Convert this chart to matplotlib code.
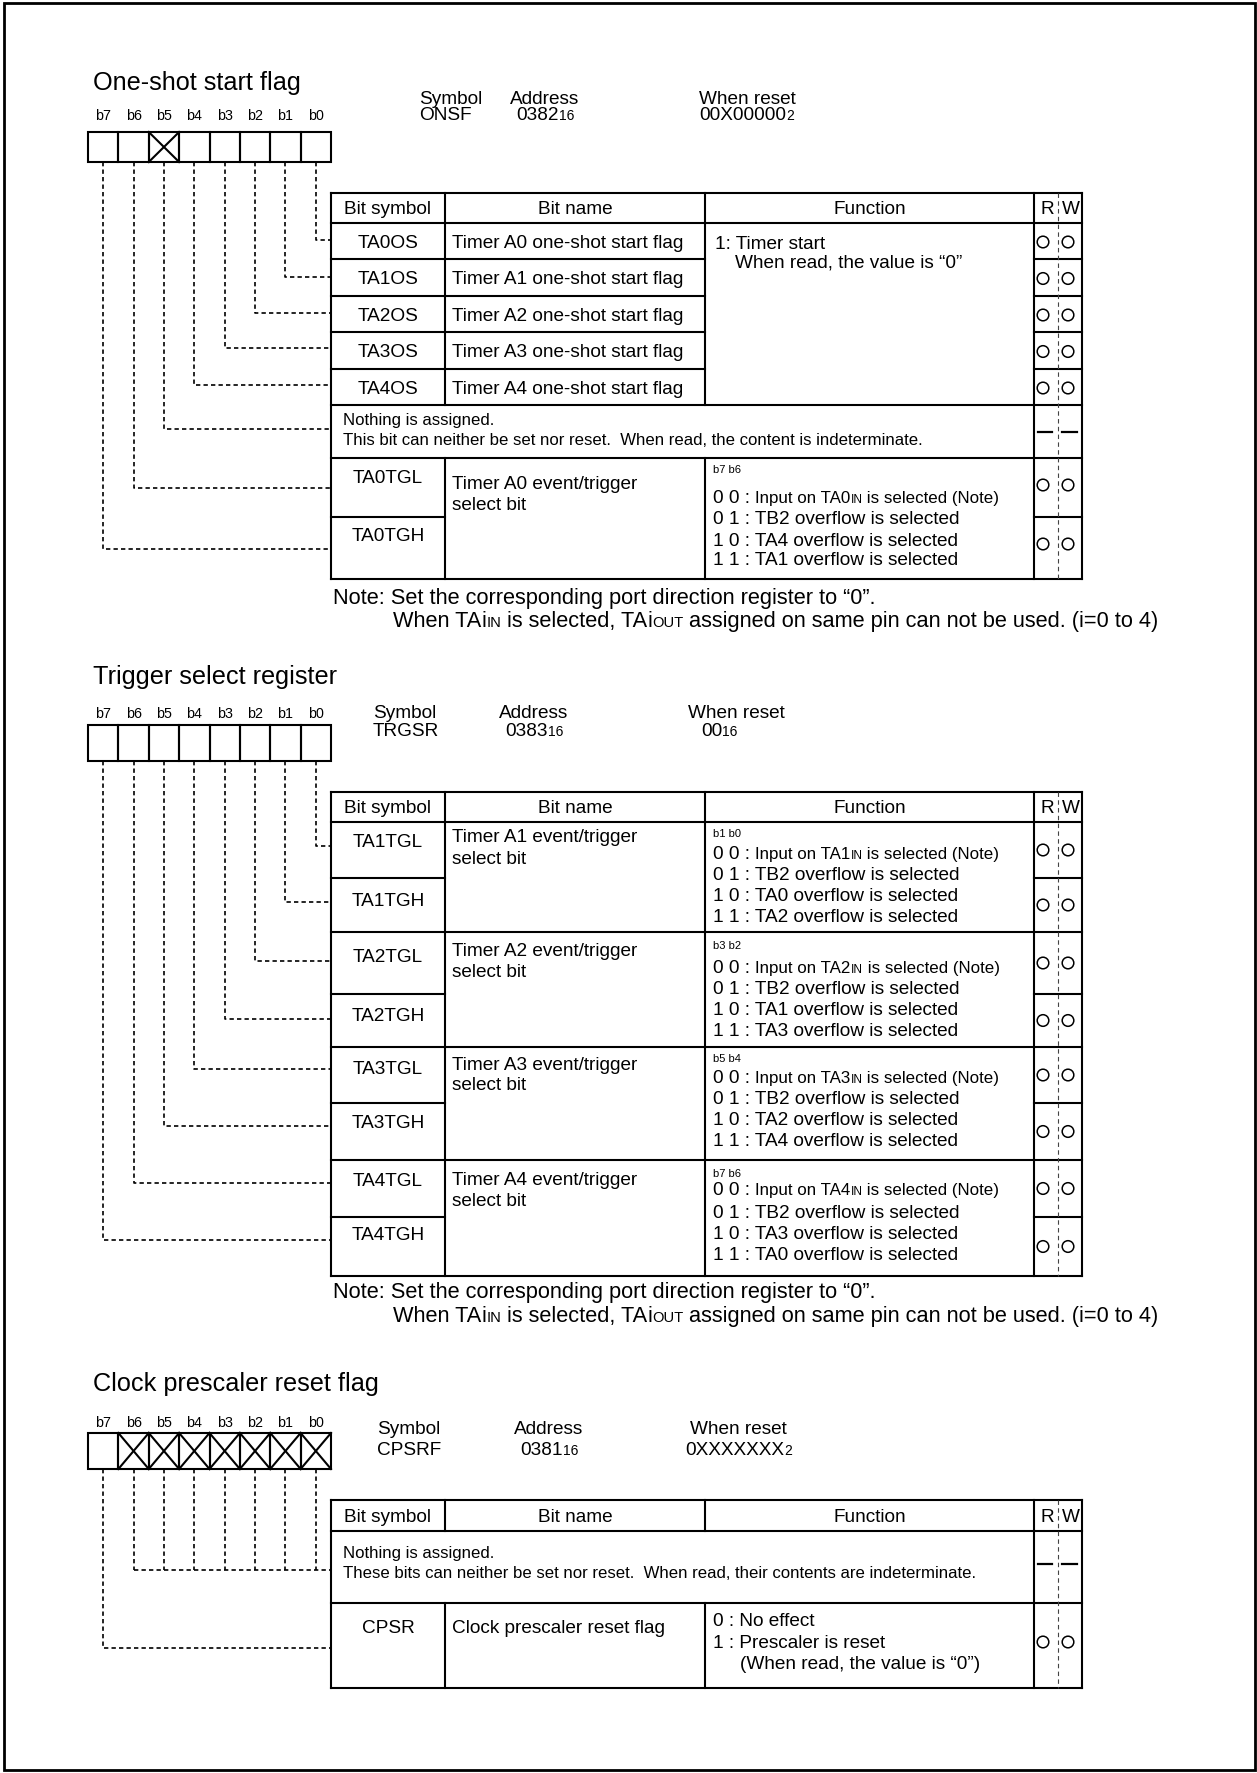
import matplotlib
matplotlib.use('Agg')
import matplotlib.pyplot as plt
from matplotlib.patches import Rectangle, Circle

# ---------------- content ----------------
BIT_LABELS = ['b7', 'b6', 'b5', 'b4', 'b3', 'b2', 'b1', 'b0']
HEADERS = ['Bit symbol', 'Bit name', 'Function']
RW = ['R', 'W']

# One-shot start flag
ONSF_TITLE = 'One-shot start flag'
ONSF_SYMBOL = 'ONSF'
ONSF_ADDR = ['0382', '16']
ONSF_RESET = ['00X00000', '2']
ONSF_CROSSED = ['b5']
ONSF_OS_SYMBOLS = ['TA0OS', 'TA1OS', 'TA2OS', 'TA3OS', 'TA4OS']
ONSF_OS_NAMES = ['Timer A0 one-shot start flag', 'Timer A1 one-shot start flag',
                 'Timer A2 one-shot start flag', 'Timer A3 one-shot start flag',
                 'Timer A4 one-shot start flag']
ONSF_OS_FUNC = ['1: Timer start', 'When read, the value is \u201c0\u201d']
ONSF_NOTHING = ['Nothing is assigned.',
                'This bit can neither be set nor reset.  When read, the content is indeterminate.']
ONSF_TG_SYMBOLS = ['TA0TGL', 'TA0TGH']
ONSF_TG_NAME = ['Timer A0 event/trigger', 'select bit']
ONSF_TG_BITS = 'b7 b6'
ONSF_TG_SRC = ['TA0', 'TB2', 'TA4', 'TA1']

# Trigger select register
TRG_TITLE = 'Trigger select register'
TRG_SYMBOL = 'TRGSR'
TRG_ADDR = ['0383', '16']
TRG_RESET = ['00', '16']
TRG_SYMBOLS = [['TA1TGL', 'TA1TGH'], ['TA2TGL', 'TA2TGH'],
               ['TA3TGL', 'TA3TGH'], ['TA4TGL', 'TA4TGH']]
TRG_NAMES = ['Timer A1 event/trigger', 'Timer A2 event/trigger',
             'Timer A3 event/trigger', 'Timer A4 event/trigger']
TRG_BITS = ['b1 b0', 'b3 b2', 'b5 b4', 'b7 b6']
TRG_SRC = [['TA1', 'TB2', 'TA0', 'TA2'], ['TA2', 'TB2', 'TA1', 'TA3'],
           ['TA3', 'TB2', 'TA2', 'TA4'], ['TA4', 'TB2', 'TA3', 'TA0']]
CODES = ['0 0 : ', '0 1 : ', '1 0 : ', '1 1 : ']

# Clock prescaler reset flag
CPS_TITLE = 'Clock prescaler reset flag'
CPS_SYMBOL = 'CPSRF'
CPS_ADDR = ['0381', '16']
CPS_RESET = ['0XXXXXXX', '2']
CPS_CROSSED = ['b6', 'b5', 'b4', 'b3', 'b2', 'b1', 'b0']
CPS_NOTHING = ['Nothing is assigned.',
               'These bits can neither be set nor reset.  When read, their contents are indeterminate.']
CPS_SYM = 'CPSR'
CPS_NAME = 'Clock prescaler reset flag'
CPS_FUNC = ['0 : No effect', '1 : Prescaler is reset', '(When read, the value is \u201c0\u201d)']

NOTE1 = 'Note: Set the corresponding port direction register to \u201c0\u201d.'

# ---------------- drawing ----------------
W, H = 1257, 1774
DPI = 100
FONT = 'Liberation Sans'
LW = 1.5
DASH_LW = 1.2

fig = plt.figure(figsize=(W / DPI, H / DPI), dpi=DPI)
ax = fig.add_axes([0, 0, 1, 1])
ax.set_xlim(0, W)
ax.set_ylim(H, 0)
ax.axis('off')
renderer = fig.canvas.get_renderer()

BASE = 13.7
NOTE = 15.7


def em(size):
    return size * DPI / 72.0


def txt(x, y, s, size=BASE, ha='left', style='normal'):
    return ax.text(x, y + 0.35 * em(size), s, fontsize=size, ha=ha, va='baseline',
                   family=FONT, fontstyle=style, color='black')


def width(s, size, style='normal'):
    t1 = ax.text(0, 0, '|' + s + '|', fontsize=size, family=FONT, fontstyle=style)
    t2 = ax.text(0, 0, '||', fontsize=size, family=FONT, fontstyle=style)
    w = t1.get_window_extent(renderer).width - t2.get_window_extent(renderer).width
    t1.remove()
    t2.remove()
    return w


def runs(x, y, parts, ha='left'):
    base = y + 0.35 * em(parts[0][1])
    arts = []
    cx = x
    for s, size, style in parts:
        t = ax.text(cx, base, s, fontsize=size, va='baseline', ha='left',
                    family=FONT, fontstyle=style, color='black')
        arts.append(t)
        cx += width(s, size, style)
    if ha == 'center':
        total = cx - x
        for t in arts:
            px, py = t.get_position()
            t.set_position((px - total / 2, py))


def hline(x0, x1, y, lw=LW):
    ax.plot([x0, x1], [y, y], color='black', lw=lw, solid_capstyle='projecting')


def vline(x, y0, y1, lw=LW):
    ax.plot([x, x], [y0, y1], color='black', lw=lw, solid_capstyle='projecting')


def dline(xs, ys):
    ax.plot(xs, ys, color='black', lw=DASH_LW, linestyle=(0, (2.6, 1.9)))


# columns
XL, XC1, XC2, XR, XD, XE = 331, 445, 705, 1034, 1058, 1082
BX0, BX1 = 88, 331
CW = (BX1 - BX0) / 8.0


def bit_center(label):
    i = BIT_LABELS.index(label)
    return BX0 + CW * (i + 0.5)


def register_head(title, ty, ly, by0, by1, crossed, sym, sx, addr, ax_c, reset, rx, hy, vy):
    txt(93, ty, title, size=18.2)
    for i, lab in enumerate(BIT_LABELS):
        cx = BX0 + CW * (i + 0.5)
        txt(cx, ly, lab, size=10.3, ha='center')
        x0 = BX0 + CW * i
        ax.add_patch(Rectangle((x0, by0), CW, by1 - by0, fill=False, lw=LW, ec='black'))
        if lab in crossed:
            ax.plot([x0, x0 + CW], [by0, by1], color='black', lw=LW)
            ax.plot([x0, x0 + CW], [by1, by0], color='black', lw=LW)
    txt(sx, hy, 'Symbol')
    txt(sx, vy, sym)
    txt(ax_c, hy, 'Address', ha='center')
    runs(ax_c, vy, [(addr[0], BASE, 'normal'), (addr[1], 10, 'normal')], ha='center')
    txt(rx[0], hy, 'When reset')
    runs(rx[1], vy, [(reset[0], BASE, 'normal'), (reset[1], 10, 'normal')])


def table_header(y0, y1):
    hline(XL, XE, y0)
    hline(XL, XE, y1)
    yc = (y0 + y1) / 2 - 1.5
    txt((XL + XC1) / 2, yc, HEADERS[0], ha='center')
    txt((XC1 + XC2) / 2, yc, HEADERS[1], ha='center')
    txt((XC2 + XR) / 2, yc, HEADERS[2], ha='center')
    txt(XD - 11, yc, RW[0], ha='center')
    txt(XD + 13, yc, RW[1], ha='center')


def rw_marks(yc, kind):
    if kind == 'o':
        for cx in (XD - 15, XD + 10):
            ax.add_patch(Circle((cx, yc), 5.8, fill=False, lw=1.1, ec='black'))
    else:
        hline(XD - 20, XD - 6, yc, lw=1.6)
        hline(XD + 4, XD + 19, yc, lw=1.6)


def func_lines(x, ys, bits, srcs):
    txt(x, ys[0], bits, size=8)
    for k in range(4):
        if k == 0:
            runs(x, ys[1], [(CODES[0], BASE, 'normal'), ('Input on ' + srcs[0], 12.2, 'normal'),
                            ('IN', 8.6, 'normal'), (' is selected (Note)', 12.2, 'normal')])
        else:
            txt(x, ys[k + 1], CODES[k] + srcs[k] + ' overflow is selected')


def notes(y1, y2):
    txt(333, y1, NOTE1, size=NOTE)
    runs(393, y2, [('When TA', NOTE, 'normal'), ('i', NOTE, 'normal'), ('IN', 10.6, 'normal'),
                   (' is selected, TA', NOTE, 'normal'), ('i', NOTE, 'normal'), ('OUT', 10.6, 'normal'),
                   (' assigned on same pin can not be used. (i=0 to 4)', NOTE, 'normal')])


# outer frame
ax.add_patch(Rectangle((4, 3.5), W - 6, H - 6, fill=False, lw=2.0, ec='black'))

# ======== Section 1 : One-shot start flag ========
register_head(ONSF_TITLE, 81, 115, 133, 163, ONSF_CROSSED, ONSF_SYMBOL, 419,
              ONSF_ADDR, 545, ONSF_RESET, (699, 699), 97, 113)
T1_TOP, T1_HB = 194, 224
os_rows = [224, 260, 297, 333, 370, 406]
T1_NB = 459
T1_SPLIT = 518
T1_BOT = 580
table_header(T1_TOP, T1_HB)
vline(XL, T1_TOP, T1_BOT)
vline(XE, T1_TOP, T1_BOT)
vline(XR, T1_TOP, T1_BOT)
vline(XC1, T1_TOP, os_rows[-1])
vline(XC2, T1_TOP, os_rows[-1])
vline(XC1, T1_NB, T1_BOT)
vline(XC2, T1_NB, T1_BOT)
for y in os_rows[1:-1]:
    hline(XL, XC2, y)
    hline(XR, XE, y)
hline(XL, XE, os_rows[-1])
hline(XL, XE, T1_NB)
hline(XL, XC1, T1_SPLIT)
hline(XR, XE, T1_SPLIT)
hline(XL, XE, T1_BOT)
ax.plot([XD, XD], [T1_TOP, T1_BOT], color='#444444', lw=0.8, linestyle=(0, (4, 3)))

for i in range(5):
    yc = (os_rows[i] + os_rows[i + 1]) / 2
    txt((XL + XC1) / 2, yc - 1, ONSF_OS_SYMBOLS[i], ha='center')
    txt(452, yc - 1, ONSF_OS_NAMES[i])
    rw_marks(yc + 1, 'o')
txt(715, 242, ONSF_OS_FUNC[0])
txt(735, 261, ONSF_OS_FUNC[1])
txt(343, 419, ONSF_NOTHING[0], size=12.1)
txt(343, 439, ONSF_NOTHING[1], size=12.1)
rw_marks(433, '-')
txt((XL + XC1) / 2, 476, ONSF_TG_SYMBOLS[0], ha='center')
txt((XL + XC1) / 2, 534, ONSF_TG_SYMBOLS[1], ha='center')
txt(452, 482, ONSF_TG_NAME[0])
txt(452, 503, ONSF_TG_NAME[1])
func_lines(713, [469, 496, 517, 539, 558], ONSF_TG_BITS, ONSF_TG_SRC)
rw_marks(486, 'o')
rw_marks(545, 'o')
notes(596, 619)

conn1 = {'b0': 241, 'b1': 278, 'b2': 314, 'b3': 349, 'b4': 386,
         'b5': 430, 'b6': 489, 'b7': 550}
for lab, yc in conn1.items():
    cx = bit_center(lab)
    dline([cx, cx, XL], [163, yc, yc])

# ======== Section 2 : Trigger select register ========
register_head(TRG_TITLE, 675, 713, 726, 762, [], TRG_SYMBOL, 373,
              TRG_ADDR, 534, TRG_RESET, (688, 701), 711, 729)
T2_TOP, T2_HB = 793, 823
groups = [823, 933, 1048, 1161, 1277]
splits = [879, 995, 1104, 1218]
table_header(T2_TOP, T2_HB)
for x in (XL, XC1, XC2, XR, XE):
    vline(x, T2_TOP, groups[-1])
for y in groups[1:]:
    hline(XL, XE, y)
for y in splits:
    hline(XL, XC1, y)
    hline(XR, XE, y)
ax.plot([XD, XD], [T2_TOP, groups[-1]], color='#444444', lw=0.8, linestyle=(0, (4, 3)))

sym_y = [[840, 899], [955, 1014], [1067, 1121], [1179, 1233]]
name_y = [[835, 857], [949, 970], [1063, 1083], [1178, 1199]]
func_y = [[833, 852, 873, 894, 915], [945, 966, 987, 1008, 1029],
          [1058, 1076, 1097, 1118, 1139], [1173, 1188, 1211, 1232, 1253]]
for g in range(4):
    txt((XL + XC1) / 2, sym_y[g][0], TRG_SYMBOLS[g][0], ha='center')
    txt((XL + XC1) / 2, sym_y[g][1], TRG_SYMBOLS[g][1], ha='center')
    txt(452, name_y[g][0], TRG_NAMES[g])
    txt(452, name_y[g][1], 'select bit')
    func_lines(713, func_y[g], TRG_BITS[g], TRG_SRC[g])
    rw_marks((groups[g] + splits[g]) / 2, 'o')
    rw_marks((splits[g] + groups[g + 1]) / 2, 'o')
notes(1290, 1314)

conn2 = {'b0': 847, 'b1': 903, 'b2': 962, 'b3': 1020, 'b4': 1070,
         'b5': 1127, 'b6': 1184, 'b7': 1241}
for lab, yc in conn2.items():
    cx = bit_center(lab)
    dline([cx, cx, XL], [762, yc, yc])

# ======== Section 3 : Clock prescaler reset flag ========
register_head(CPS_TITLE, 1382, 1422, 1434, 1470, CPS_CROSSED, CPS_SYMBOL, 377,
              CPS_ADDR, 549, CPS_RESET, (690, 685), 1427, 1448)
T3_TOP, T3_HB, T3_NB, T3_BOT = 1501, 1532, 1604, 1689
table_header(T3_TOP, T3_HB)
vline(XL, T3_TOP, T3_BOT)
vline(XE, T3_TOP, T3_BOT)
vline(XR, T3_TOP, T3_BOT)
vline(XC1, T3_TOP, T3_HB)
vline(XC2, T3_TOP, T3_HB)
vline(XC1, T3_NB, T3_BOT)
vline(XC2, T3_NB, T3_BOT)
hline(XL, XE, T3_NB)
hline(XL, XE, T3_BOT)
ax.plot([XD, XD], [T3_TOP, T3_BOT], color='#444444', lw=0.8, linestyle=(0, (4, 3)))
txt(343, 1552, CPS_NOTHING[0], size=12.1)
txt(343, 1572, CPS_NOTHING[1], size=12.1)
rw_marks(1565, '-')
txt((XL + XC1) / 2, 1626, CPS_SYM, ha='center')
txt(452, 1626, CPS_NAME)
txt(713, 1619, CPS_FUNC[0])
txt(713, 1641, CPS_FUNC[1])
txt(740, 1662, CPS_FUNC[2])
rw_marks(1643, 'o')

for lab in CPS_CROSSED:
    cx = bit_center(lab)
    dline([cx, cx], [1470, 1571])
dline([bit_center('b6'), XL], [1571, 1571])
cx7 = bit_center('b7')
dline([cx7, cx7, XL], [1470, 1649, 1649])

fig.savefig('out.png', dpi=DPI, facecolor='white')
